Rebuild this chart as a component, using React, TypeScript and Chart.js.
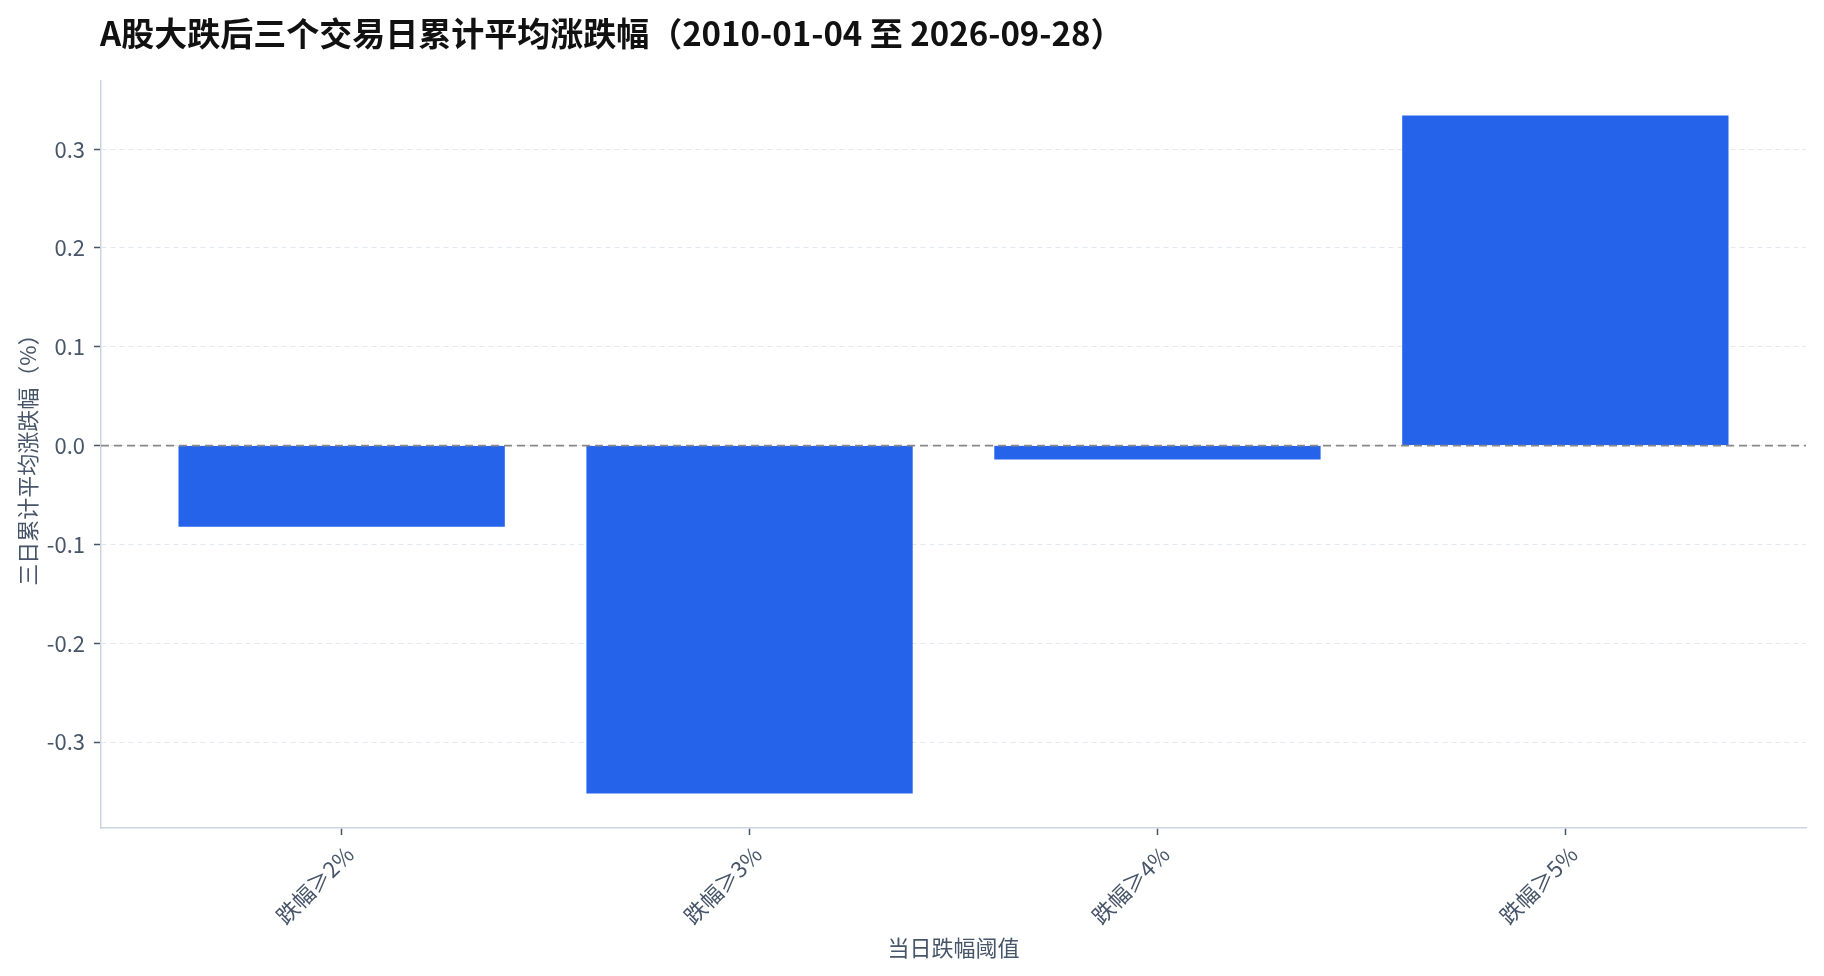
import { useEffect, useRef } from "react";
import { Chart, registerables } from "chart.js";

Chart.register(...registerables);

const chartTitle = "A股大跌后三个交易日累计平均涨跌幅（2010-01-04 至 2026-09-28）";
const categories = ["跌幅≥2%", "跌幅≥3%", "跌幅≥4%", "跌幅≥5%"];
const avgReturns = [-0.082, -0.352, -0.014, 0.334];
const yTickValues = [-0.3, -0.2, -0.1, 0, 0.1, 0.2, 0.3];
const xAxisTitle = "当日跌幅阈值";
const yAxisTitle = "三日累计平均涨跌幅（%）";

const FONT = "'Noto Sans CJK SC', 'Noto Sans', sans-serif";

const App = () => {
  const canvasRef = useRef<HTMLCanvasElement | null>(null);

  useEffect(() => {
    const ctx = canvasRef.current?.getContext("2d");
    if (!ctx) return;

    // title text + dashed zero line
    const extras = {
      id: "extras",
      afterDatasetsDraw(chart: any) {
        const { ctx, chartArea, scales } = chart;
        const y0 = scales.y.getPixelForValue(0);
        ctx.save();
        ctx.strokeStyle = "#888888";
        ctx.lineWidth = 1.6;
        ctx.setLineDash([8, 5]);
        ctx.beginPath();
        ctx.moveTo(chartArea.left, y0);
        ctx.lineTo(chartArea.right, y0);
        ctx.stroke();
        ctx.restore();
      },
      afterDraw(chart: any) {
        const { ctx } = chart;
        ctx.save();
        ctx.font = `bold 33px ${FONT}`;
        ctx.fillStyle = "#111111";
        ctx.textAlign = "left";
        ctx.textBaseline = "middle";
        ctx.fillText(chartTitle, 100, 33);
        ctx.restore();
      },
    };

    const chart = new Chart(ctx, {
      type: "bar",
      data: {
        datasets: [
          {
            data: avgReturns.map((v, i) => ({ x: i, y: v })),
            backgroundColor: "#2563eb",
            borderWidth: 0,
            categoryPercentage: 1,
            barPercentage: 0.8,
          },
        ],
      },
      options: {
        animation: false,
        responsive: true,
        maintainAspectRatio: false,
        layout: { padding: { top: 81, right: 18, left: 0, bottom: 0 } },
        plugins: {
          legend: { display: false },
          tooltip: { enabled: false },
          title: { display: false },
        },
        scales: {
          x: {
            type: "linear",
            min: -0.59,
            max: 3.59,
            offset: false,
            afterBuildTicks: (scale: any) => {
              scale.ticks = categories.map((_, i) => ({ value: i }));
            },
            afterFit: (scale: any) => {
              scale.height = 148;
            },
            ticks: {
              minRotation: 45,
              maxRotation: 45,
              autoSkip: false,
              padding: 6,
              labelOffset: 8,
              color: "#475569",
              font: { family: FONT, size: 22 },
              callback: (value: any) => categories[Number(value)] ?? "",
            },
            grid: {
              display: true,
              offset: false,
              drawOnChartArea: false,
              drawTicks: true,
              tickLength: 7,
              tickColor: "#475569",
              tickWidth: 1.5,
            },
            border: { display: true, color: "#cbd5e1", width: 1.5 },
            title: {
              display: true,
              text: xAxisTitle,
              color: "#475569",
              font: { family: FONT, size: 22 },
              padding: { top: 0, bottom: 15 },
            },
          },
          y: {
            type: "linear",
            min: -0.387,
            max: 0.369,
            afterBuildTicks: (scale: any) => {
              scale.ticks = yTickValues.map((v) => ({ value: v }));
            },
            afterFit: (scale: any) => {
              scale.width = 101;
            },
            ticks: {
              padding: 9,
              color: "#475569",
              font: { family: FONT, size: 22 },
              callback: (value: any) => Number(value).toFixed(1),
            },
            grid: {
              color: "#e2e8f0",
              lineWidth: 1,
              drawTicks: true,
              tickLength: 7,
              tickColor: "#475569",
              tickWidth: 1.5,
              tickBorderDash: [],
            },
            border: { display: true, color: "#cbd5e1", width: 1.5, dash: [5, 4] },
            title: {
              display: true,
              text: yAxisTitle,
              color: "#475569",
              font: { family: FONT, size: 22 },
              padding: { top: 14, bottom: 0 },
            },
          },
        },
      },
      plugins: [extras],
    });

    return () => {
      chart.destroy();
    };
  }, []);

  return (
    <div style={{ position: "absolute", left: 0, top: 0, width: 1824, height: 976, background: "#ffffff" }}>
      <canvas ref={canvasRef}></canvas>
    </div>
  );
};

export default App;
